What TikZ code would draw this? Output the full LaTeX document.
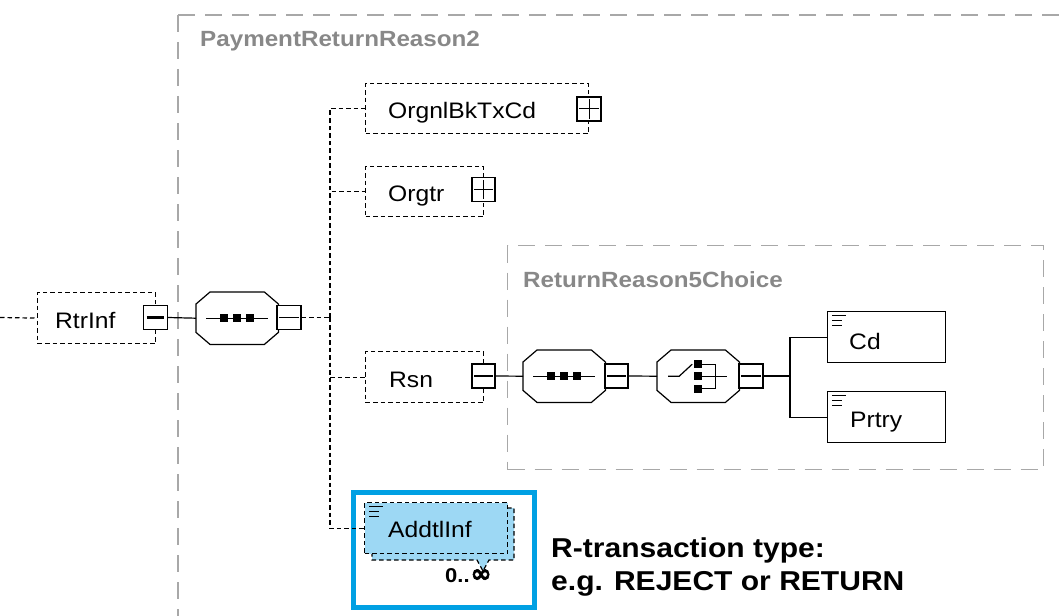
\documentclass[tikz,border=0pt]{standalone}
\usepackage{fontspec}
\setmainfont{Liberation Sans}[FakeStretch=1.1]
\newfontfamily\symfont{DejaVu Sans Bold}[FakeBold=2.5]
\usetikzlibrary{calc}
\definecolor{framegray}{RGB}{168,168,168}
\definecolor{titlegray}{RGB}{136,136,136}
\definecolor{hlblue}{RGB}{0,160,227}
\definecolor{fillblue}{RGB}{157,216,244}
\newcommand\drawocta[1]{%
  \draw[thinline,fill=white] ($(#1.north west)+(14,0)$) -- ($(#1.north east)+(-14,0)$) -- ($(#1.north east)+(0,12)$) -- ($(#1.south east)+(0,-12)$) -- ($(#1.south east)+(-14,0)$) -- ($(#1.south west)+(14,0)$) -- ($(#1.south west)+(0,-12)$) -- ($(#1.north west)+(0,12)$) -- cycle;}
\newcommand\docicon[1]{%
  \draw[line width=1pt] ($(#1.north west)+(5,4.5)$) -- ($(#1.north west)+(19,4.5)$)
    ($(#1.north west)+(5,9)$) -- ($(#1.north west)+(15,9)$)
    ($(#1.north west)+(5,14)$) -- ($(#1.north west)+(15,14)$);}
\newcommand\minusmark[1]{\draw[thinline] ($(#1.west)+(3,0)$) -- ($(#1.east)+(-3,0)$);}
\newcommand\plusmark[1]{\draw[line width=1pt] ($(#1.west)+(3,0)$) -- ($(#1.east)+(-3,0)$) ($(#1.north)+(0,3)$) -- ($(#1.south)+(0,-3)$);}
\begin{document}
\begin{tikzpicture}[x=1pt,y=-1pt,
  thinline/.style={line width=1.2pt},
  elem/.style={draw,line width=1.2pt,dash pattern=on 4.5pt off 3pt,inner sep=0,anchor=north west},
  solidelem/.style={draw,line width=1.2pt,inner sep=0,anchor=north west},
  pm/.style={draw,fill=white,line width=1.2pt,inner sep=0,minimum width=24pt,minimum height=24pt},
  seqbox/.style={inner sep=0,minimum width=82pt,minimum height=52pt,anchor=north west},
  frame/.style={draw=framegray,line width=1.3pt,dash pattern=on 17pt off 10pt},
  conn/.style={line width=1.2pt,dash pattern=on 4.5pt off 3pt},
  solidconn/.style={line width=1.2pt},
  lbl/.style={inner sep=0,anchor=base west,font=\fontsize{22.4}{26}\selectfont},
  title/.style={inner sep=0,anchor=base west,text=titlegray,font=\bfseries\fontsize{22}{26}\selectfont},
  note/.style={inner sep=0,anchor=base west,font=\bfseries\fontsize{27.3}{32}\selectfont}]
\useasboundingbox (0,0) rectangle (1064,615);
% outer frame
\draw[frame] (178,15) -- (1080,15);
\draw[frame] (178,15) -- (178,630);
\node[title] (t-prr) at (200,47) {PaymentReturnReason2};
% choice frame
\node[frame,inner sep=0,anchor=north west,minimum width=536pt,minimum height=224pt] (rrframe) at (507,245) {};
\node[title] (t-rr) at (523,287) {ReturnReason5Choice};
% highlight frame
\node[draw=hlblue,line width=5pt,inner sep=0,anchor=north west,minimum width=181pt,minimum height=115pt] (hl) at (350.5,489.5) {};
% RtrInf
\coordinate (lstart) at (0,317.5);
\node[elem,minimum width=118pt,minimum height=51pt] (rtrinf) at (37,292) {};
\node[lbl] (t-rtrinf) at (55,328) {RtrInf};
\node[pm] (rtrinfm) at (155.5,317.5) {};
\draw[line width=3pt] ($(rtrinfm.west)+(4,0)$) -- ($(rtrinfm.east)+(-4,0)$);
\draw[conn] (lstart) -- (rtrinf.west);
% sequence 1
\node[seqbox] (seq1) at (196,292) {};
\drawocta{seq1}
\draw[thinline] ($(seq1.west)+(10,0)$) -- ($(seq1.east)+(-10,0)$);
\foreach \dx in {-13,0,13} \fill ($(seq1.center)+(\dx-4,-4)$) rectangle +(8,8);
\node[pm] (seq1m) at (289,317.5) {};
\minusmark{seq1m}
\draw[solidconn] (rtrinfm.east) -- (seq1.west);
\coordinate (bus) at (330,317.5);
\draw[conn] (seq1m.east) -- (bus);
% children
\node[elem,minimum width=223pt,minimum height=50pt] (orgnl) at (365,83) {};
\node[lbl] (t-orgnl) at (388,118) {OrgnlBkTxCd};
\node[pm] (orgnlp) at (589,109) {};
\plusmark{orgnlp}
\node[elem,minimum width=118pt,minimum height=50pt] (orgtr) at (365,166) {};
\node[lbl] (t-orgtr) at (388,201) {Orgtr};
\node[pm,minimum width=23pt] (orgtrp) at (483.5,189.5) {};
\plusmark{orgtrp}
\node[elem,minimum width=118pt,minimum height=51pt] (rsn) at (365,351) {};
\node[lbl] (t-rsn) at (389,387) {Rsn};
\node[pm,minimum width=23pt] (rsnm) at (483.5,376) {};
\minusmark{rsnm}
% AddtlInf
\draw[elem,fill=fillblue] (372,508) -- (514,508) -- (514,560) -- (489,560) -- (483,571) -- (477,560) -- (372,560) -- cycle;
\node[elem,fill=fillblue,minimum width=143pt,minimum height=51pt] (addtl) at (364,502) {};
\docicon{addtl}
\node[lbl] (t-addtl) at (388,537) {AddtlInf};
\node[inner sep=0,anchor=base west,font=\bfseries\fontsize{20}{24}\selectfont] (mult) at (445,582) {0..\kern1pt{\symfont\fontsize{25}{25}\selectfont\char"221E}};
% bus connectors
\draw[conn] (bus) |- (orgnl.west);
\draw[conn] (bus) |- (orgtr.west);
\draw[conn] (bus) |- (rsn.west);
\draw[conn] (bus) |- (addtl.west);
% sequence 2
\node[seqbox] (seq2) at (523,350) {};
\drawocta{seq2}
\draw[thinline] ($(seq2.west)+(10,0)$) -- ($(seq2.east)+(-10,0)$);
\foreach \dx in {-13,0,13} \fill ($(seq2.center)+(\dx-4,-4)$) rectangle +(8,8);
\node[pm,minimum width=23pt] (seq2m) at (616.5,376) {};
\minusmark{seq2m}
\draw[solidconn] (rsnm.east) -- (seq2.west);
% choice
\node[seqbox] (choice) at (657,350) {};
\drawocta{choice}
\draw[thinline] ($(choice.center)+(-30,0)$) -- ($(choice.center)+(-19,0)$) -- ($(choice.center)+(-6,-12)$);
\foreach \dy in {-12,0,12.5} \fill ($(choice.center)+(-4,\dy-4)$) rectangle +(8,8);
\draw[thinline] ($(choice.center)+(4,-12)$) -- ($(choice.center)+(17,-12)$) -- ($(choice.center)+(17,12.5)$) -- ($(choice.center)+(4,12.5)$);
\draw[thinline] ($(choice.center)+(4,0)$) -- ($(choice.center)+(29,0)$);
\node[pm] (choicem) at (751,376) {};
\minusmark{choicem}
\draw[solidconn] (seq2m.east) -- (choice.west);
\coordinate (fork) at (790,376);
\draw[solidconn] (choicem.east) -- (fork);
% Cd and Prtry
\node[solidelem,minimum width=118pt,minimum height=51pt] (cd) at (827,311) {};
\docicon{cd}
\node[lbl] (t-cd) at (849,349) {Cd};
\node[solidelem,minimum width=118pt,minimum height=51pt] (prtry) at (827,391) {};
\docicon{prtry}
\node[lbl] (t-prtry) at (850,427) {Prtry};
\draw[solidconn] (fork) |- (cd.west);
\draw[solidconn] (fork) |- (prtry.west);
% note
\node[note] (note1) at (551,557) {R-transaction type:};
\node[note] (note2) at (551,590) {e.g. REJECT or RETURN};
\end{tikzpicture}
\end{document}
